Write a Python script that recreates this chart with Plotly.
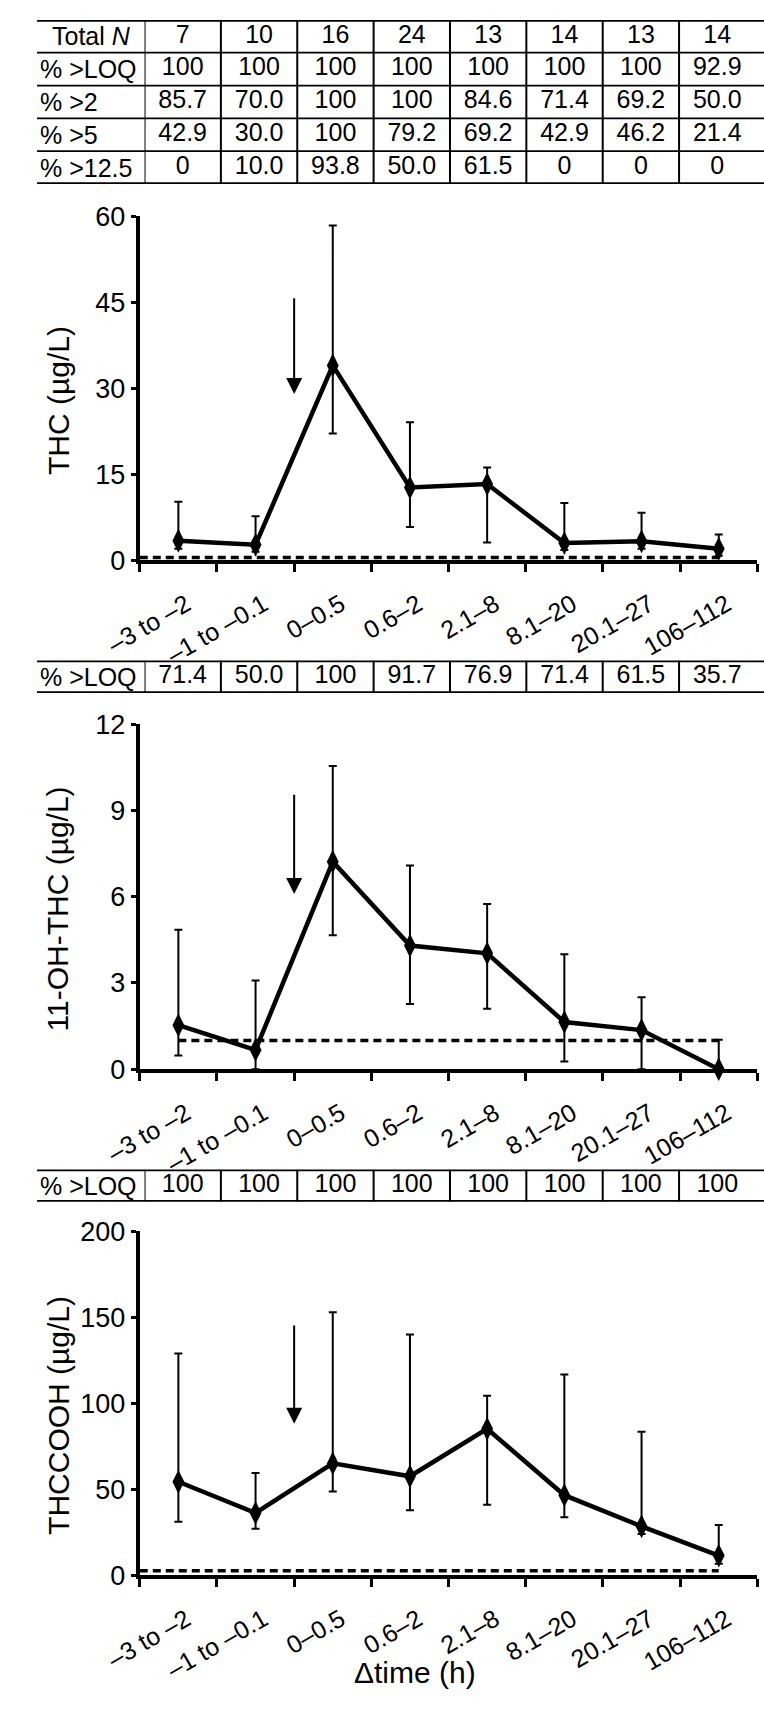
import plotly.graph_objects as go

W, H = 764, 1710
FONT = "Liberation Sans, Arial, sans-serif"

# x categories (time since dose, h)
categories = ["–3 to –2", "–1 to –0.1", "0–0.5", "0.6–2", "2.1–8", "8.1–20", "20.1–27", "106–112"]

# table values
total_n = [7, 10, 16, 24, 13, 14, 13, 14]
thc_pct_loq = [100, 100, 100, 100, 100, 100, 100, 92.9]
thc_pct_gt2 = [85.7, 70.0, 100, 100, 84.6, 71.4, 69.2, 50.0]
thc_pct_gt5 = [42.9, 30.0, 100, 79.2, 69.2, 42.9, 46.2, 21.4]
thc_pct_gt12 = [0, 10.0, 93.8, 50.0, 61.5, 0, 0, 0]
oh_pct_loq = [71.4, 50.0, 100, 91.7, 76.9, 71.4, 61.5, 35.7]
cooh_pct_loq = [100, 100, 100, 100, 100, 100, 100, 100]

# concentrations (µg/L): median, upper and lower bar ends
thc_mid = [3.4, 2.7, 34.0, 12.7, 13.3, 3.0, 3.3, 2.0]
thc_hi = [10.2, 7.7, 58.4, 24.1, 16.2, 10.0, 8.3, 4.5]
thc_lo = [2.0, 1.5, 22.1, 5.8, 3.1, 1.8, 2.0, 0.8]

oh_mid = [1.53, 0.67, 7.22, 4.30, 4.03, 1.64, 1.36, 0.0]
oh_hi = [4.85, 3.09, 10.55, 7.09, 5.75, 4.0, 2.5, 1.02]
oh_lo = [0.48, 0.0, 4.66, 2.27, 2.10, 0.27, 0.0, 0.0]

cooh_mid = [54.3, 36.2, 65.0, 57.5, 85.1, 46.5, 28.4, 11.4]
cooh_hi = [128.9, 59.4, 152.9, 140.0, 104.3, 116.7, 83.4, 29.1]
cooh_lo = [31.0, 27.0, 48.6, 37.7, 40.9, 33.7, 24.0, 6.6]

# limits of quantification (dashed lines) and dose arrows (tail, tip)
loq = [0.5, 1.0, 2.5]
arrow_tail = [46, 9.6, 146]
arrow_tip = [29, 6.1, 88]


def fy(px):
    return 1 - px / H


def fmt(v):
    if v == 100:
        return "100"
    if v == 0:
        return "0"
    return f"{v:.1f}"


fig = go.Figure()
shapes = []
annotations = []

# ---- tables ----
tables = [
    (["Total <i>N</i>", "% >LOQ", "% >2", "% >5", "% >12.5"],
     [[str(n) for n in total_n], [fmt(v) for v in thc_pct_loq], [fmt(v) for v in thc_pct_gt2],
      [fmt(v) for v in thc_pct_gt5], [fmt(v) for v in thc_pct_gt12]],
     5, 172),
    (["% >LOQ"], [[fmt(v) for v in oh_pct_loq]], 657, 690),
    (["% >LOQ"], [[fmt(v) for v in cooh_pct_loq]], 1175, 1208),
]

layout_axes = {}
layout_axes["xaxis4"] = dict(domain=[113 / W, 755 / W], range=[-0.5, 7.5], visible=False, anchor="y4")

for ti, (labels, rows, top, bot) in enumerate(tables):
    yname = f"y{4 + ti}"
    layout_axes[f"yaxis{4 + ti}"] = dict(domain=[fy(bot), fy(top)], range=[len(rows), 0],
                                         visible=False, anchor="x4")
    for ri, (lab, vals) in enumerate(zip(labels, rows)):
        fig.add_trace(go.Scatter(
            x=list(range(len(vals))), y=[ri + 0.5] * len(vals), mode="text", text=vals,
            textfont=dict(family=FONT, size=25, color="black"), textposition="middle center",
            xaxis="x4", yaxis=yname, hoverinfo="skip", showlegend=False,
        ))
        annotations.append(dict(
            x=(14 if lab.startswith("Total") else 1) / W, xref="paper", xanchor="left",
            y=ri + 0.5, yref=yname, yanchor="middle", text=lab, showarrow=False,
            font=dict(family=FONT, size=25, color="black"),
        ))
    for k in range(len(rows) + 1):
        outer = k in (0, len(rows))
        shapes.append(dict(type="line", xref="paper", x0=0, x1=1, yref=yname, y0=k, y1=k,
                           line=dict(color="black", width=3.5 if outer else 1.8)))
    for c in range(len(categories)):
        shapes.append(dict(type="line", xref="x4", x0=c - 0.5, x1=c - 0.5, yref=yname,
                           y0=0, y1=len(rows), line=dict(color="black", width=2)))

# ---- data panels ----
panels = [
    ("THC (µg/L)", thc_mid, thc_hi, thc_lo, 60, 15, 205, 555, -0.5),
    ("11-OH-THC (µg/L)", oh_mid, oh_hi, oh_lo, 12, 3, 722, 1073, 0),
    ("THCCOOH (µg/L)", cooh_mid, cooh_hi, cooh_lo, 200, 50, 1238, 1588, -0.5),
]

for pi, (title, mid, hi, lo, ymax, dt, ptop, pbot, dash_start) in enumerate(panels):
    sfx = "" if pi == 0 else str(pi + 1)
    xname, yname = "x" + sfx, "y" + sfx
    fig.add_trace(go.Scatter(
        x=list(range(len(mid))), y=mid, mode="lines+markers",
        line=dict(color="black", width=4.5),
        marker=dict(symbol="diamond-tall", size=17, color="black"),
        error_y=dict(type="data", symmetric=False,
                     array=[h - m for h, m in zip(hi, mid)],
                     arrayminus=[m - l for m, l in zip(mid, lo)],
                     color="black", thickness=2, width=4),
        cliponaxis=False, xaxis=xname, yaxis=yname, hoverinfo="skip", showlegend=False,
    ))
    shapes.append(dict(type="line", xref=xname, x0=dash_start, x1=len(mid) - 1, yref=yname,
                       y0=loq[pi], y1=loq[pi], layer="below",
                       line=dict(color="black", width=3.5, dash="8px,5px")))
    annotations.append(dict(
        x=1.5, y=arrow_tip[pi], ax=1.5, ay=arrow_tail[pi], xref=xname, yref=yname,
        axref=xname, ayref=yname, text="", showarrow=True, arrowhead=2,
        arrowsize=1.6, arrowwidth=2, arrowcolor="black", standoff=0,
    ))
    annotations.append(dict(
        x=22 / W, xref="paper", y=fy((ptop + pbot) / 2 + 12), yref="paper",
        text=title, textangle=-90, showarrow=False, xanchor="center", yanchor="middle",
        font=dict(family=FONT, size=30, color="black"),
    ))
    layout_axes["xaxis" + sfx] = dict(
        domain=[108 / W, 757 / W], range=[-0.5, 7.5], anchor=yname,
        tickmode="array", tickvals=list(range(len(categories))), ticktext=categories,
        ticks="", showline=True, linewidth=4, linecolor="black", showgrid=False,
        zeroline=False, tickangle=-30, ticklabelstandoff=16, ticklabelshift=8,
        tickfont=dict(family=FONT, size=25, color="black"),
        minor=dict(tickmode="array", tickvals=[c - 0.5 for c in range(len(categories) + 1)],
                   ticks="outside", ticklen=8, tickwidth=3, tickcolor="black", showgrid=False),
        layer="below traces",
    )
    layout_axes["yaxis" + sfx] = dict(
        domain=[fy(pbot), fy(ptop)], range=[0, ymax], dtick=dt, tick0=0, anchor=xname,
        ticks="outside", ticklen=5, tickwidth=3, tickcolor="black",
        showline=True, linewidth=4, linecolor="black", showgrid=False, zeroline=False,
        tickfont=dict(family=FONT, size=27, color="black"),
    )

annotations.append(dict(
    x=397 / W, xref="paper", y=fy(1687), yref="paper", text="Δtime (h)", showarrow=False,
    xanchor="center", yanchor="middle", font=dict(family=FONT, size=30, color="black"),
))

fig.update_layout(
    width=W, height=H, autosize=False,
    margin=dict(l=0, r=0, t=0, b=0),
    paper_bgcolor="white", plot_bgcolor="white",
    font=dict(family=FONT, color="black"),
    shapes=shapes, annotations=annotations,
    **layout_axes,
)

# the page's default body margin would push the figure off its place
fig.write_html("out.html", config={"displayModeBar": False},
               post_script="document.body.style.margin = '0';")
